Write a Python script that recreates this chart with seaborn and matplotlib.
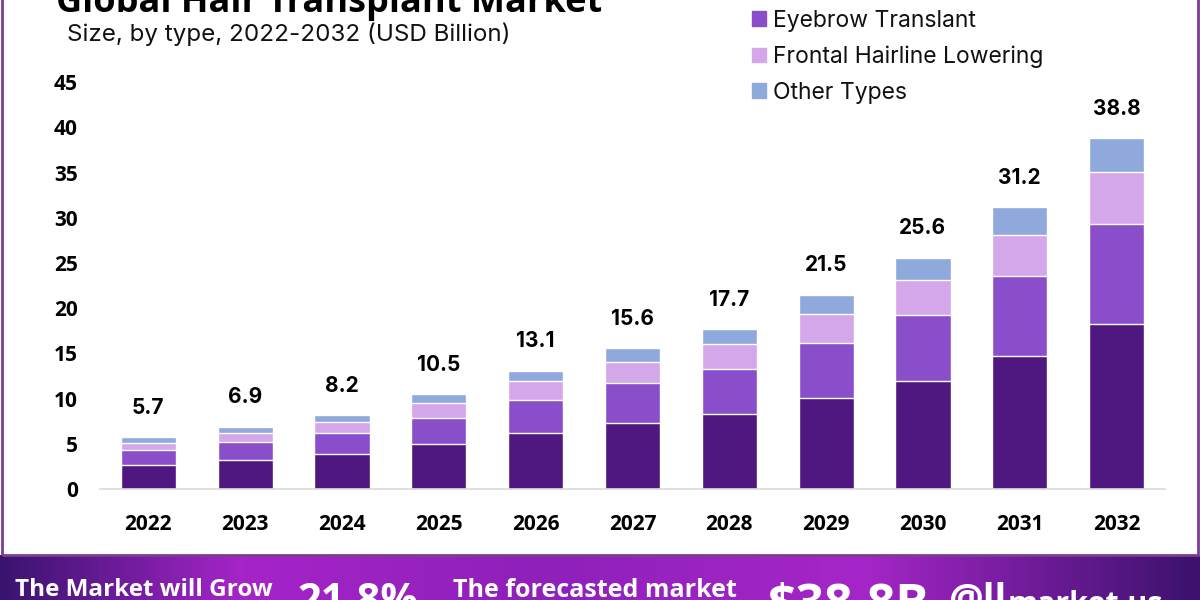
import numpy as np
import pandas as pd
import seaborn as sns
import matplotlib.pyplot as plt
from matplotlib.patches import Rectangle
from matplotlib.colors import LinearSegmentedColormap

years = ['2022', '2023', '2024', '2025', '2026', '2027', '2028', '2029', '2030', '2031', '2032']
types = ['Scalp Hair Transplant', 'Eyebrow Translant', 'Frontal Hairline Lowering', 'Other Types']
scalp = [2.7, 3.2, 3.9, 5.0, 6.2, 7.3, 8.3, 10.1, 11.9, 14.7, 18.3]
eyebrow = [1.6, 2.0, 2.3, 2.9, 3.7, 4.4, 5.0, 6.1, 7.3, 8.9, 11.0]
frontal = [0.8, 1.0, 1.2, 1.6, 2.0, 2.4, 2.7, 3.2, 3.9, 4.5, 5.8]
other = [0.6, 0.7, 0.8, 1.0, 1.2, 1.5, 1.7, 2.1, 2.5, 3.1, 3.7]
totals = [5.7, 6.9, 8.2, 10.5, 13.1, 15.6, 17.7, 21.5, 25.6, 31.2, 38.8]
colors = ['#4f1780', '#8a4ecb', '#d4a6ea', '#8fa9dc']

sns.set_style('white')
plt.rcParams['font.family'] = ['Open Sans', 'DejaVu Sans']

fig = plt.figure(figsize=(12, 6), dpi=100)
ax = fig.add_axes([0.0833, 0.185, 0.8875, 0.678])

df = pd.DataFrame({'year': years, types[0]: scalp, types[1]: eyebrow,
                   types[2]: frontal, types[3]: other})
# cumulative heights, drawn from the top segment down so each one covers the last
stack = df[types].cumsum(axis=1)
stack['year'] = years
for name, color in reversed(list(zip(types, colors))):
    sns.barplot(data=stack, x='year', y=name, color=color, width=0.57,
                saturation=1, errorbar=None, ax=ax)

for i, t in enumerate(totals):
    ax.annotate(f'{t}', (i, t), xytext=(0, 21), textcoords='offset points',
                ha='center', va='center', fontsize=15, fontweight='bold',
                color='black', family=['Inter', 'DejaVu Sans'])

ax.set_xlim(-0.5, 10.5)
ax.set_ylim(0, 45)
ax.set_yticks(range(0, 46, 5))
ax.set_xlabel('')
ax.set_ylabel('')
for s in ['left', 'top', 'right']:
    ax.spines[s].set_visible(False)
ax.spines['bottom'].set_color('#d9d9d9')
ax.spines['bottom'].set_linewidth(1.2)
ax.tick_params(axis='y', length=0, pad=16)
ax.tick_params(axis='x', length=0, pad=18)
for lab in ax.get_xticklabels() + ax.get_yticklabels():
    lab.set_fontsize(15)
    lab.set_fontweight('bold')
    lab.set_color('black')

handles = [Rectangle((0, 0), 1, 1, color=c) for c in colors]
leg = fig.legend(handles, types, loc='upper left', bbox_to_anchor=(0.6267, 1.044),
                 frameon=False, borderpad=0, borderaxespad=0, handlelength=0.62,
                 handleheight=0.62, handletextpad=0.3, labelspacing=0.6,
                 prop={'family': 'Inter', 'size': 16.5})
for txt in leg.get_texts():
    txt.set_color('#111111')

fig.text(0.047, 0.98, 'Global Hair Transplant Market', fontsize=26,
         fontweight='bold', va='baseline', color='black')
fig.text(0.056, 0.932, 'Size, by type, 2022-2032 (USD Billion)', fontsize=17.4,
         family='Inter', va='baseline', color='#111111')

# frame around the chart area
fig.patches.append(Rectangle((0.002, 0.075), 0.996, 0.95, transform=fig.transFigure,
                             fill=False, edgecolor='#7b3f8f', linewidth=2))

# gradient banner at the bottom
bax = fig.add_axes([0, 0, 1, 0.075])
cmap = LinearSegmentedColormap.from_list('banner', [(0, '#3a136e'), (0.2, '#a524c8'),
                                                    (0.45, '#8f20ba'), (0.72, '#a526c8'),
                                                    (1, '#3c126c')])
bax.imshow(np.linspace(0, 1, 256)[None, :], aspect='auto', cmap=cmap, extent=[0, 1, 0, 1])
bax.axis('off')

fig.text(0.0125, 0.036, 'The Market will Grow', color='white', fontsize=17.5,
         fontweight='bold', va='top')
fig.text(0.248, 0.03, '21.8%', color='white', fontsize=30, fontweight='bold', va='top')
fig.text(0.3775, 0.036, 'The forecasted market', color='white', fontsize=18,
         fontweight='bold', va='top')
fig.text(0.64, 0.03, '$38.8B', color='white', fontsize=36, fontweight='bold', va='top')
fig.text(0.79, 0.03, '@ll', color='white', fontsize=28, fontweight='bold', va='top')
fig.text(0.84, 0.0167, 'market.us', color='white', fontsize=22, fontweight='bold', va='top')

fig.savefig('out.png', dpi=100)
